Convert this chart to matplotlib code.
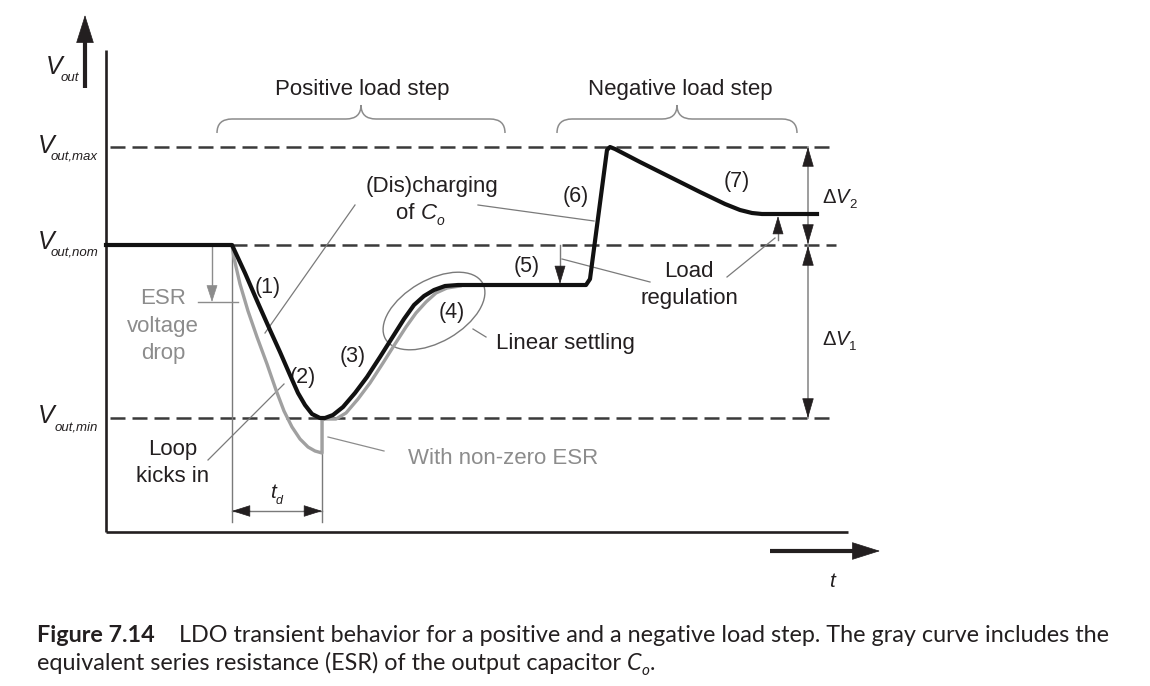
import matplotlib
matplotlib.use('Agg')
import matplotlib.pyplot as plt
from matplotlib.patches import Ellipse, FancyArrowPatch, PathPatch
from matplotlib.path import Path

plt.rcParams['font.family'] = ['Liberation Sans', 'DejaVu Sans']

# voltage levels (drawing units, y grows downwards)
v_max = 147
v_nom = 245
v_min = 418
v_reg_low = 285
v_reg_high = 214

# black curve: ideal output voltage
t_black = [106, 232, 245, 258, 270, 280, 290, 298, 305, 312, 320, 325, 333, 343, 355, 367,
           380, 392, 404, 414, 424, 434, 445, 458, 586, 590, 607, 610, 615, 640, 670, 700,
           725, 740, 752, 762, 817]
v_black = [245, 245, 273, 303, 330, 352, 375, 393, 405, 414, 418, 418, 415, 407, 393, 377,
           357, 338, 319, 305, 296, 290, 286, 285, 285, 279, 150, 147, 149, 162, 177, 192,
           204, 210, 213, 214, 214]

# gray curve: with non-zero ESR
t_gray = [232, 234, 240, 248, 257, 267, 276, 284, 292, 300, 308, 315, 322, 322, 325, 336,
          346, 358, 370, 383, 395, 406, 416, 426, 436, 447, 460]
v_gray = [245, 258, 284, 311, 337, 364, 390, 411, 427, 439, 447, 451, 453, 420, 419, 419,
          413, 399, 383, 363, 344, 327, 313, 302, 293, 288, 286]

t_step_start = 232
t_loop = 322

fig = plt.figure(figsize=(11.5, 6.86), dpi=100)
ax = fig.add_axes([0, 0, 1, 1])
ax.set_xlim(0, 1150)
ax.set_ylim(686, 0)
ax.axis('off')
fig.canvas.draw()
rend = fig.canvas.get_renderer()

dark = '#231f20'
gray = '#8c8c8c'
thin = '#7a7a7a'


def pieces(x, y, parts):
    # place text parts one after another on a baseline
    for s, dy, kw in parts:
        t = ax.text(x, y + dy, s, ha='left', va='baseline', color=kw.pop('color', dark), **kw)
        bb = t.get_window_extent(rend)
        x = ax.transData.inverted().transform((bb.x1, bb.y0))[0]
    return x


def head(x0, y0, x1, y1, color=dark, hl=11, hw=3.6):
    ax.add_patch(FancyArrowPatch((x0, y0), (x1, y1), arrowstyle='-|>,head_length=%g,head_width=%g' % (hl, hw),
                                 mutation_scale=1, color=color, lw=0.5, shrinkA=0, shrinkB=0, zorder=6))


# axes
ax.plot([106, 106], [50, 532], color=dark, lw=1.9, solid_capstyle='butt')
ax.plot([106, 848], [532, 532], color=dark, lw=1.9, solid_capstyle='butt')
ax.plot([85, 85], [88, 38], color=dark, lw=3, solid_capstyle='butt')
head(85, 45, 85, 15, hl=19, hw=6)
ax.plot([770, 856], [551, 551], color=dark, lw=3, solid_capstyle='butt')
head(850, 551, 880, 551, hl=19, hw=6)
ax.text(832, 587, 't', style='italic', fontsize=15, ha='center', va='baseline', color=dark)

# dashed levels
dash = dict(color='#3a3a3a', lw=1.8, dashes=(6, 2.8))
ax.plot([110, 836], [v_max, v_max], **dash)
ax.plot([232, 836], [v_nom, v_nom], **dash)
ax.plot([110, 836], [v_min, v_min], **dash)

# curves
ax.plot(t_gray, v_gray, color='#a0a0a0', lw=2.4, solid_joinstyle='round', zorder=3)
ax.plot(t_black, v_black, color='#111111', lw=3.0, solid_joinstyle='round', zorder=4)

# td markers
ax.plot([t_step_start, t_step_start], [v_nom, 522], color=thin, lw=1)
ax.plot([t_loop, t_loop], [v_min, 522], color=thin, lw=1)
ax.plot([t_step_start, t_loop], [511, 511], color=thin, lw=1)
head(250, 511, t_step_start, 511, hl=12, hw=3.8)
head(304, 511, t_loop, 511, hl=12, hw=3.8)
pieces(270, 498, [('t', 0, dict(style='italic', fontsize=15)), ('d', 6, dict(style='italic', fontsize=9))])

# ESR drop marker
ax.plot([212, 212], [v_nom, 290], color=gray, lw=1)
ax.plot([198, 238], [302, 302], color=gray, lw=1)
head(212, 287, 212, 302, color=gray, hl=11, hw=3.6)
for s, yy in [('ESR', 304), ('voltage', 332), ('drop', 359)]:
    ax.text(163, yy, s, fontsize=16, ha='center', va='baseline', color=gray)

# delta V arrows
ax.plot([808, 808], [v_max, v_min], color=gray, lw=1.2)
head(808, v_max + 18, 808, v_max, hl=13, hw=3.8)
head(808, v_nom - 18, 808, v_nom - 1, hl=13, hw=3.8)
head(808, v_nom + 19, 808, v_nom + 1, hl=13, hw=3.8)
head(808, v_min - 18, 808, v_min, hl=13, hw=3.8)
pieces(822, 203, [('\u0394', 0, dict(fontsize=14.5)), ('V', 0, dict(style='italic', fontsize=14.5)),
                  ('2', 5, dict(fontsize=9.5))])
pieces(822, 345, [('\u0394', 0, dict(fontsize=14.5)), ('V', 0, dict(style='italic', fontsize=14.5)),
                  ('1', 5, dict(fontsize=9.5))])

# load regulation markers
ax.plot([560, 560], [v_nom, 272], color=thin, lw=1)
head(560, 271, 560, v_reg_low - 1, hl=12, hw=3.6)
ax.plot([778, 778], [240, 228], color=thin, lw=1)
head(778, 230, 778, v_reg_high + 2, hl=12, hw=3.6)
ax.plot([562, 650], [259, 282], color=thin, lw=0.9)
ax.plot([775, 727], [238, 277], color=thin, lw=0.9)
ax.text(689, 277, 'Load', fontsize=16, ha='center', va='baseline', color=dark)
ax.text(689, 304, 'regulation', fontsize=16, ha='center', va='baseline', color=dark)

# braces
def brace(x0, x1, y0=133, y1=119, yc=105):
    xm = (x0 + x1) / 2
    verts = [(x0, y0), (x0, y1), (x0 + 15, y1), (xm - 15, y1), (xm, y1), (xm, yc),
             (xm, y1), (xm + 15, y1), (x1 - 15, y1), (x1, y1), (x1, y0)]
    codes = [Path.MOVETO, Path.CURVE3, Path.CURVE3, Path.LINETO, Path.CURVE3, Path.CURVE3,
             Path.CURVE3, Path.CURVE3, Path.LINETO, Path.CURVE3, Path.CURVE3]
    ax.add_patch(PathPatch(Path(verts, codes), fill=False, ec=gray, lw=1.1))


brace(217, 505)
brace(557, 797)
ax.text(362, 95, 'Positive load step', fontsize=16, ha='center', va='baseline', color=dark)
ax.text(680, 95, 'Negative load step', fontsize=16, ha='center', va='baseline', color=dark)

# (Dis)charging label
ax.text(432, 192, '(Dis)charging', fontsize=16, ha='center', va='baseline', color=dark)
pieces(396, 219, [('of ', 0, dict(fontsize=16)), ('C', 0, dict(style='italic', fontsize=16)),
                  ('o', 6, dict(style='italic', fontsize=10))])
ax.plot([355, 265], [205, 333], color=thin, lw=0.9)
ax.plot([478, 594], [205, 221], color=thin, lw=0.9)

# numbered phases
for s, xx, yy in [('(1)', 268, 293), ('(2)', 303, 383), ('(3)', 353, 362), ('(4)', 452, 318),
                  ('(5)', 527, 272), ('(6)', 576, 202), ('(7)', 737, 187)]:
    ax.text(xx, yy, s, fontsize=15.5, ha='center', va='baseline', color=dark)

# linear settling
ax.add_patch(Ellipse((434, 311), 112, 62, angle=-30, fill=False, ec=thin, lw=1))
ax.plot([473, 486], [329, 337], color=thin, lw=0.9)
ax.text(565, 349, 'Linear settling', fontsize=16, ha='center', va='baseline', color=dark)

# loop kicks in
ax.text(173, 455, 'Loop', fontsize=16, ha='center', va='baseline', color=dark)
ax.text(173, 482, 'kicks in', fontsize=16, ha='center', va='baseline', color=dark)
ax.plot([208, 284], [460, 384], color=thin, lw=0.9)

# non-zero ESR
ax.plot([328, 384], [437, 451], color=gray, lw=0.9)
ax.text(503, 464, 'With non-zero ESR', fontsize=16, ha='center', va='baseline', color=gray)

# y labels
def vlabel(xv, yb, sub, xs):
    ax.text(xv, yb, 'V', style='italic', fontsize=18, ha='left', va='baseline', color=dark)
    ax.text(xs, yb + 7, sub, style='italic', fontsize=9.5, ha='right', va='baseline', color=dark)


vlabel(46, 74, 'out', 79)
vlabel(38, 153, 'out,max', 98)
vlabel(38, 249, 'out,nom', 98)
vlabel(38, 423, 'out,min', 98)

# caption
cap = dict(fontsize=16.8, family=['Lato', 'DejaVu Sans'])
xx = pieces(37, 642, [('Figure 7.14', 0, dict(weight='bold', **cap))])
ax.text(xx + 24, 642, 'LDO transient behavior for a positive and a negative load step. The gray curve includes the',
        ha='left', va='baseline', color=dark, **cap)
pieces(37, 670, [('equivalent series resistance (ESR) of the output capacitor ', 0, dict(**cap)),
                 ('C', 0, dict(style='italic', **cap)), ('o', 5, dict(style='italic', fontsize=11, family=['Lato', 'DejaVu Sans'])),
                 ('.', 0, dict(**cap))])

fig.savefig('out.png', dpi=100)
